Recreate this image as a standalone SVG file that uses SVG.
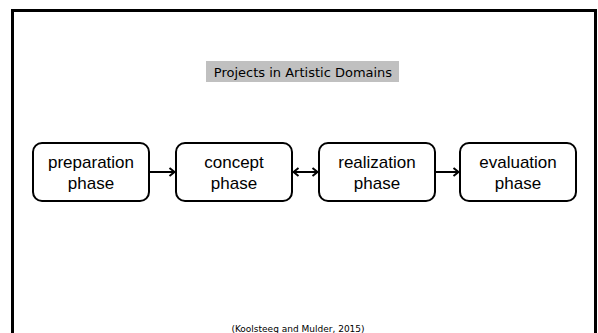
<svg xmlns="http://www.w3.org/2000/svg" width="598" height="333" viewBox="0 0 598 333">
<defs>
<style>
.box{fill:#fff;stroke:#000;stroke-width:2}
.lbl{font-family:"Liberation Sans",Arial,sans-serif;font-size:17px;fill:#000;text-anchor:middle}
.conn{stroke:#000;stroke-width:2;fill:none}
.small{font-family:"DejaVu Sans",Verdana,sans-serif;fill:#000;text-anchor:middle}
</style>
<marker id="head" viewBox="-7 -6 9 12" refX="0" refY="0" markerWidth="9" markerHeight="12" markerUnits="userSpaceOnUse" orient="auto-start-reverse">
<path d="M-5,-4 L0,0 L-5,4" fill="none" stroke="#000" stroke-width="2"/>
</marker>
</defs>
<rect width="598" height="333" fill="#fff"/>
<path d="M12.5,333 V10.5 H595.5 V333" fill="none" stroke="#000" stroke-width="3"/>
<g id="title">
<rect x="206" y="61" width="193" height="21" fill="#c0c0c0"/>
<text class="small" x="303" y="77" font-size="13">Projects in Artistic Domains</text>
</g>
<g id="connectors">
<line class="conn" x1="149" y1="172" x2="174.5" y2="172" marker-end="url(#head)"/>
<line class="conn" x1="293.5" y1="172" x2="317.5" y2="172" marker-start="url(#head)" marker-end="url(#head)"/>
<line class="conn" x1="435" y1="172" x2="458.5" y2="172" marker-end="url(#head)"/>
</g>
<g id="preparation">
<rect class="box" x="33" y="143" width="116" height="58" rx="9"/>
<text class="lbl" x="91" y="168">preparation</text>
<text class="lbl" x="91" y="189">phase</text>
</g>
<g id="concept">
<rect class="box" x="176" y="143" width="116" height="58" rx="9"/>
<text class="lbl" x="234" y="168">concept</text>
<text class="lbl" x="234" y="189">phase</text>
</g>
<g id="realization">
<rect class="box" x="319" y="143" width="116" height="58" rx="9"/>
<text class="lbl" x="377" y="168">realization</text>
<text class="lbl" x="377" y="189">phase</text>
</g>
<g id="evaluation">
<rect class="box" x="460" y="143" width="116" height="58" rx="9"/>
<text class="lbl" x="518" y="168">evaluation</text>
<text class="lbl" x="518" y="189">phase</text>
</g>
<text class="small" x="298" y="332" font-size="9">(Koolsteeg and Mulder, 2015)</text>
</svg>
